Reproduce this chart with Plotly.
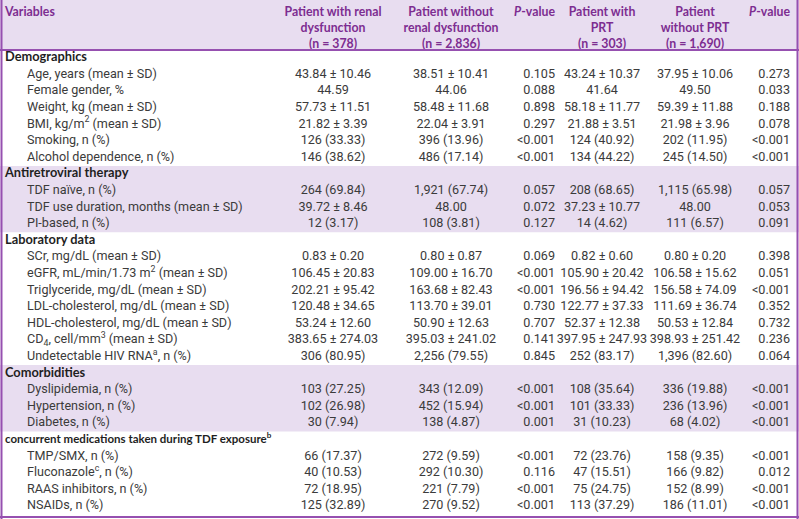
import plotly.graph_objects as go

# ---------------- data ----------------
variables = [
    "Demographics",
    "Age, years (mean ± SD)",
    "Female gender, %",
    "Weight, kg (mean ± SD)",
    "BMI, kg/m<sup>2</sup> (mean ± SD)",
    "Smoking, n (%)",
    "Alcohol dependence, n (%)",
    "Antiretroviral therapy",
    "TDF naïve, n (%)",
    "TDF use duration, months (mean ± SD)",
    "PI-based, n (%)",
    "Laboratory data",
    "SCr, mg/dL (mean ± SD)",
    "eGFR, mL/min/1.73 m<sup>2</sup> (mean ± SD)",
    "Triglyceride, mg/dL (mean ± SD)",
    "LDL-cholesterol, mg/dL (mean ± SD)",
    "HDL-cholesterol, mg/dL (mean ± SD)",
    "CD<sub>4</sub>, cell/mm<sup>3</sup> (mean ± SD)",
    "Undetectable HIV RNA<sup>a</sup>, n (%)",
    "Comorbidities",
    "Dyslipidemia, n (%)",
    "Hypertension, n (%)",
    "Diabetes, n (%)",
    "concurrent medications taken during TDF exposure<sup>b</sup>",
    "TMP/SMX, n (%)",
    "Fluconazole<sup>c</sup>, n (%)",
    "RAAS inhibitors, n (%)",
    "NSAIDs, n (%)",
]

section_titles = ["Demographics", "Antiretroviral therapy", "Laboratory data",
                  "Comorbidities",
                  "concurrent medications taken during TDF exposure<sup>b</sup>"]
shaded_sections = ["Antiretroviral therapy", "Comorbidities"]

renal = ["", "43.84 ± 10.46", "44.59", "57.73 ± 11.51", "21.82 ± 3.39", "126 (33.33)", "146 (38.62)",
         "", "264 (69.84)", "39.72 ± 8.46", "12 (3.17)",
         "", "0.83 ± 0.20", "106.45 ± 20.83", "202.21 ± 95.42", "120.48 ± 34.65", "53.24 ± 12.60",
         "383.65 ± 274.03", "306 (80.95)",
         "", "103 (27.25)", "102 (26.98)", "30 (7.94)",
         "", "66 (17.37)", "40 (10.53)", "72 (18.95)", "125 (32.89)"]
nonrenal = ["", "38.51 ± 10.41", "44.06", "58.48 ± 11.68", "22.04 ± 3.91", "396 (13.96)", "486 (17.14)",
            "", "1,921 (67.74)", "48.00", "108 (3.81)",
            "", "0.80 ± 0.87", "109.00 ± 16.70", "163.68 ± 82.43", "113.70 ± 39.01", "50.90 ± 12.63",
            "395.03 ± 241.02", "2,256 (79.55)",
            "", "343 (12.09)", "452 (15.94)", "138 (4.87)",
            "", "272 (9.59)", "292 (10.30)", "221 (7.79)", "270 (9.52)"]
p_renal = ["", "0.105", "0.088", "0.898", "0.297", "<0.001", "<0.001",
           "", "0.057", "0.072", "0.127",
           "", "0.069", "<0.001", "<0.001", "0.730", "0.707", "0.141", "0.845",
           "", "<0.001", "<0.001", "0.001",
           "", "<0.001", "0.116", "<0.001", "<0.001"]
prt = ["", "43.24 ± 10.37", "41.64", "58.18 ± 11.77", "21.88 ± 3.51", "124 (40.92)", "134 (44.22)",
       "", "208 (68.65)", "37.23 ± 10.77", "14 (4.62)",
       "", "0.82 ± 0.60", "105.90 ± 20.42", "196.56 ± 94.42", "122.77 ± 37.33", "52.37 ± 12.38",
       "397.95 ± 247.93", "252 (83.17)",
       "", "108 (35.64)", "101 (33.33)", "31 (10.23)",
       "", "72 (23.76)", "47 (15.51)", "75 (24.75)", "113 (37.29)"]
nonprt = ["", "37.95 ± 10.06", "49.50", "59.39 ± 11.88", "21.98 ± 3.96", "202 (11.95)", "245 (14.50)",
          "", "1,115 (65.98)", "48.00", "111 (6.57)",
          "", "0.80 ± 0.20", "106.58 ± 15.62", "156.58 ± 74.09", "111.69 ± 36.74", "50.53 ± 12.84",
          "398.93 ± 251.42", "1,396 (82.60)",
          "", "336 (19.88)", "236 (13.96)", "68 (4.02)",
          "", "158 (9.35)", "166 (9.82)", "152 (8.99)", "186 (11.01)"]
p_prt = ["", "0.273", "0.033", "0.188", "0.078", "<0.001", "<0.001",
         "", "0.057", "0.053", "0.091",
         "", "0.398", "0.051", "<0.001", "0.352", "0.732", "0.236", "0.064",
         "", "<0.001", "<0.001", "<0.001",
         "", "<0.001", "0.012", "<0.001", "<0.001"]

headers = ["Variables",
           "Patient with renal<br>dysfunction<br>(n = 378)",
           "Patient without<br>renal dysfunction<br>(n = 2,836)",
           "<i>P</i>-value",
           "Patient with<br>PRT<br>(n = 303)",
           "Patient<br>without PRT<br>(n = 1,690)",
           "<i>P</i>-value"]

# ---------------- layout constants (pixels) ----------------
W, H = 799, 519
ROW_H = 16.6
ROW0 = 58.0          # centre of first body row
HEADER_BOTTOM = 50.0
HEADER_TEXT_TOP = 7.0
col_x = [5, 333, 451, 555, 602, 695, 790]
col_anchor = ["middle right", "middle center", "middle center", "middle left",
              "middle center", "middle center", "middle left"]
head_anchor = ["bottom right", "bottom center", "bottom center", "bottom left",
               "bottom center", "bottom center", "bottom left"]
INDENT = 22

PURPLE = "#7d2d91"
LAVENDER = "#e8ddf0"
BORDER = "#9650b0"
BODY = "#3b3b3b"
DARK = "#1f1f1f"
BODY_FONT = "Roboto"
BOLD_FONT = "Lato"
BODY_SIZE = 12.6
SECTION_SIZE = 12.8
LONG_SECTION_SIZE = 11.5
HEADER_SIZE = 12.3


def px_to_row(p):
    return (p - ROW0) / ROW_H


y_top = px_to_row(0)
y_bot = px_to_row(H)

n = len(variables)
rows = list(range(n))
is_section = [v in section_titles for v in variables]
section_sizes = [(LONG_SECTION_SIZE if len(v) > 30 else SECTION_SIZE) if s else BODY_SIZE
                 for v, s in zip(variables, is_section)]

fig = go.Figure()

# variable column
fig.add_trace(go.Scatter(
    x=[col_x[0] if s else col_x[0] + INDENT for s in is_section],
    y=rows,
    text=[f"<b>{v}</b>" if s else v for v, s in zip(variables, is_section)],
    mode="text", textposition="middle right",
    textfont=dict(family=[BOLD_FONT if s else BODY_FONT for s in is_section],
                  size=section_sizes,
                  color=[DARK if s else BODY for s in is_section]),
    hoverinfo="skip", showlegend=False, cliponaxis=False))

for ci, col in enumerate([renal, nonrenal, p_renal, prt, nonprt, p_prt], start=1):
    idx = [i for i, v in enumerate(col) if v]
    fig.add_trace(go.Scatter(
        x=[col_x[ci]] * len(idx), y=idx, text=[col[i] for i in idx],
        mode="text", textposition=col_anchor[ci],
        textfont=dict(family=BODY_FONT, size=BODY_SIZE, color=BODY),
        hoverinfo="skip", showlegend=False, cliponaxis=False))

# header
fig.add_trace(go.Scatter(
    x=col_x, y=[px_to_row(HEADER_TEXT_TOP)] * len(headers), text=[f"<b>{h}</b>" for h in headers],
    mode="text", textposition=head_anchor,
    textfont=dict(family=BOLD_FONT, size=HEADER_SIZE, color=PURPLE),
    hoverinfo="skip", showlegend=False, cliponaxis=False))

shapes = []
shapes.append(dict(type="rect", xref="paper", yref="y", x0=0, x1=1, y0=y_top,
                   y1=px_to_row(HEADER_BOTTOM), fillcolor=LAVENDER, line_width=0, layer="below"))
for sec in shaded_sections:
    start = variables.index(sec)
    end = start + 1
    while end < n and not is_section[end]:
        end += 1
    shapes.append(dict(type="rect", xref="paper", yref="y", x0=0, x1=1,
                       y0=start - 0.5, y1=end - 0.5, fillcolor=LAVENDER, line_width=0, layer="below"))
shapes.append(dict(type="line", xref="paper", yref="y", x0=0, x1=1,
                   y0=px_to_row(HEADER_BOTTOM), y1=px_to_row(HEADER_BOTTOM),
                   line=dict(color=BORDER, width=2)))
shapes.append(dict(type="line", xref="paper", yref="y", x0=0, x1=1,
                   y0=px_to_row(517), y1=px_to_row(517), line=dict(color=BORDER, width=2)))
shapes.append(dict(type="line", xref="x", yref="paper", x0=1.5, x1=1.5, y0=0, y1=1,
                   line=dict(color=BORDER, width=2)))
shapes.append(dict(type="line", xref="x", yref="paper", x0=797.5, x1=797.5, y0=0, y1=1,
                   line=dict(color=BORDER, width=2)))

fig.update_layout(
    width=W, height=H, margin=dict(l=0, r=0, t=0, b=0),
    paper_bgcolor="white", plot_bgcolor="white",
    xaxis=dict(range=[0, W], visible=False, fixedrange=True),
    yaxis=dict(range=[y_bot, y_top], visible=False, fixedrange=True),
    shapes=shapes,
)

fig.write_html("out.html", config={"displayModeBar": False},
               post_script="document.body.style.margin='0';document.body.style.overflow='hidden';")
